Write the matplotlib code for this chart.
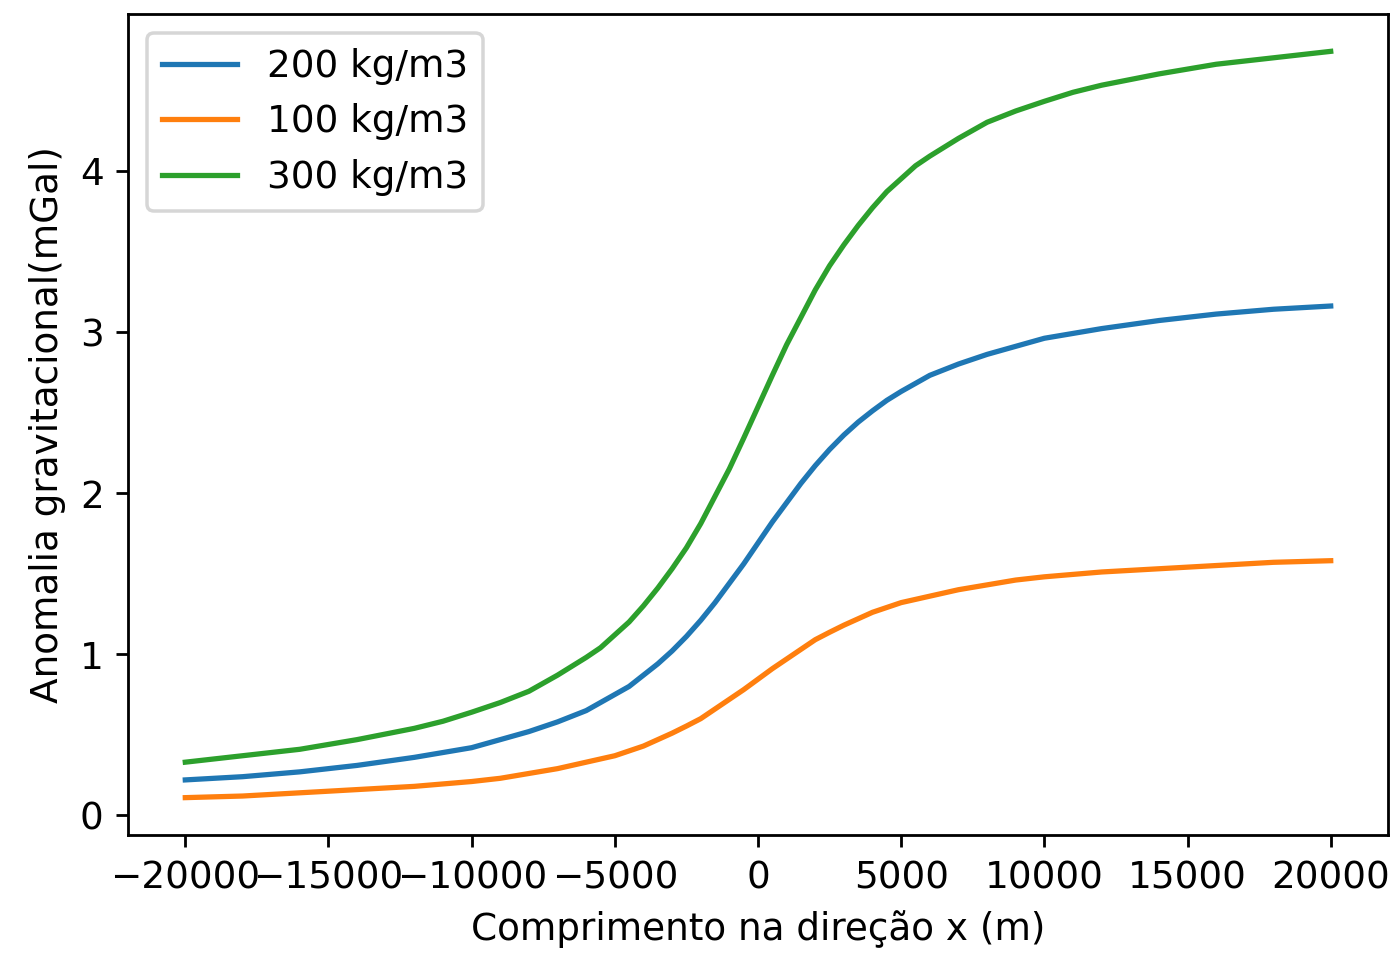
import matplotlib
matplotlib.use("Agg")
import matplotlib.pyplot as plt

plt.rcParams["font.size"] = 10.7

# distancias (m) e anomalias (mGal)
x = [-20000, -18000, -16000, -14000, -12000, -11000, -10000, -9000, -8000, -7000,
     -6000, -5500, -5000, -4500, -4000, -3500, -3000, -2500, -2000, -1500, -1000, -500,
     0, 500, 1000, 1500, 2000, 2500, 3000, 3500, 4000, 4500, 5000, 5500, 6000,
     7000, 8000, 9000, 10000, 11000, 12000, 14000, 16000, 18000, 20000]

g200 = [0.22, 0.24, 0.27, 0.31, 0.36, 0.39, 0.42, 0.47, 0.52, 0.58,
        0.65, 0.70, 0.75, 0.80, 0.87, 0.94, 1.02, 1.11, 1.21, 1.32, 1.44, 1.56,
        1.69, 1.82, 1.94, 2.06, 2.17, 2.27, 2.36, 2.44, 2.51, 2.575, 2.63, 2.68, 2.73,
        2.80, 2.86, 2.91, 2.96, 2.99, 3.02, 3.07, 3.11, 3.14, 3.16]
g100 = [0.11, 0.12, 0.14, 0.16, 0.18, 0.195, 0.21, 0.23, 0.26, 0.29,
        0.33, 0.35, 0.37, 0.40, 0.43, 0.47, 0.51, 0.554, 0.60, 0.66, 0.72, 0.78,
        0.845, 0.91, 0.97, 1.03, 1.09, 1.136, 1.18, 1.22, 1.26, 1.29, 1.32, 1.34, 1.36,
        1.40, 1.43, 1.46, 1.48, 1.495, 1.51, 1.53, 1.55, 1.57, 1.58]
g300 = [0.33, 0.37, 0.41, 0.47, 0.54, 0.584, 0.64, 0.70, 0.77, 0.87,
        0.98, 1.04, 1.12, 1.20, 1.30, 1.41, 1.53, 1.66, 1.81, 1.98, 2.15, 2.34,
        2.535, 2.73, 2.92, 3.09, 3.26, 3.41, 3.54, 3.66, 3.77, 3.87, 3.95, 4.03, 4.09,
        4.20, 4.30, 4.37, 4.43, 4.486, 4.53, 4.60, 4.66, 4.70, 4.74]

fig = plt.figure(figsize=(1393 / 252, 955 / 252), dpi=252)
ax = fig.add_axes([0.0919, 0.1257, 0.9045, 0.8596])

ax.plot(x, g200, label="200 kg/m3")
ax.plot(x, g100, label="100 kg/m3")
ax.plot(x, g300, label="300 kg/m3")

ax.set_xlabel("Comprimento na direção x (m)")
ax.set_ylabel("Anomalia gravitacional(mGal)")
ax.legend(loc="upper left")

plt.savefig("out.png", dpi=252)
